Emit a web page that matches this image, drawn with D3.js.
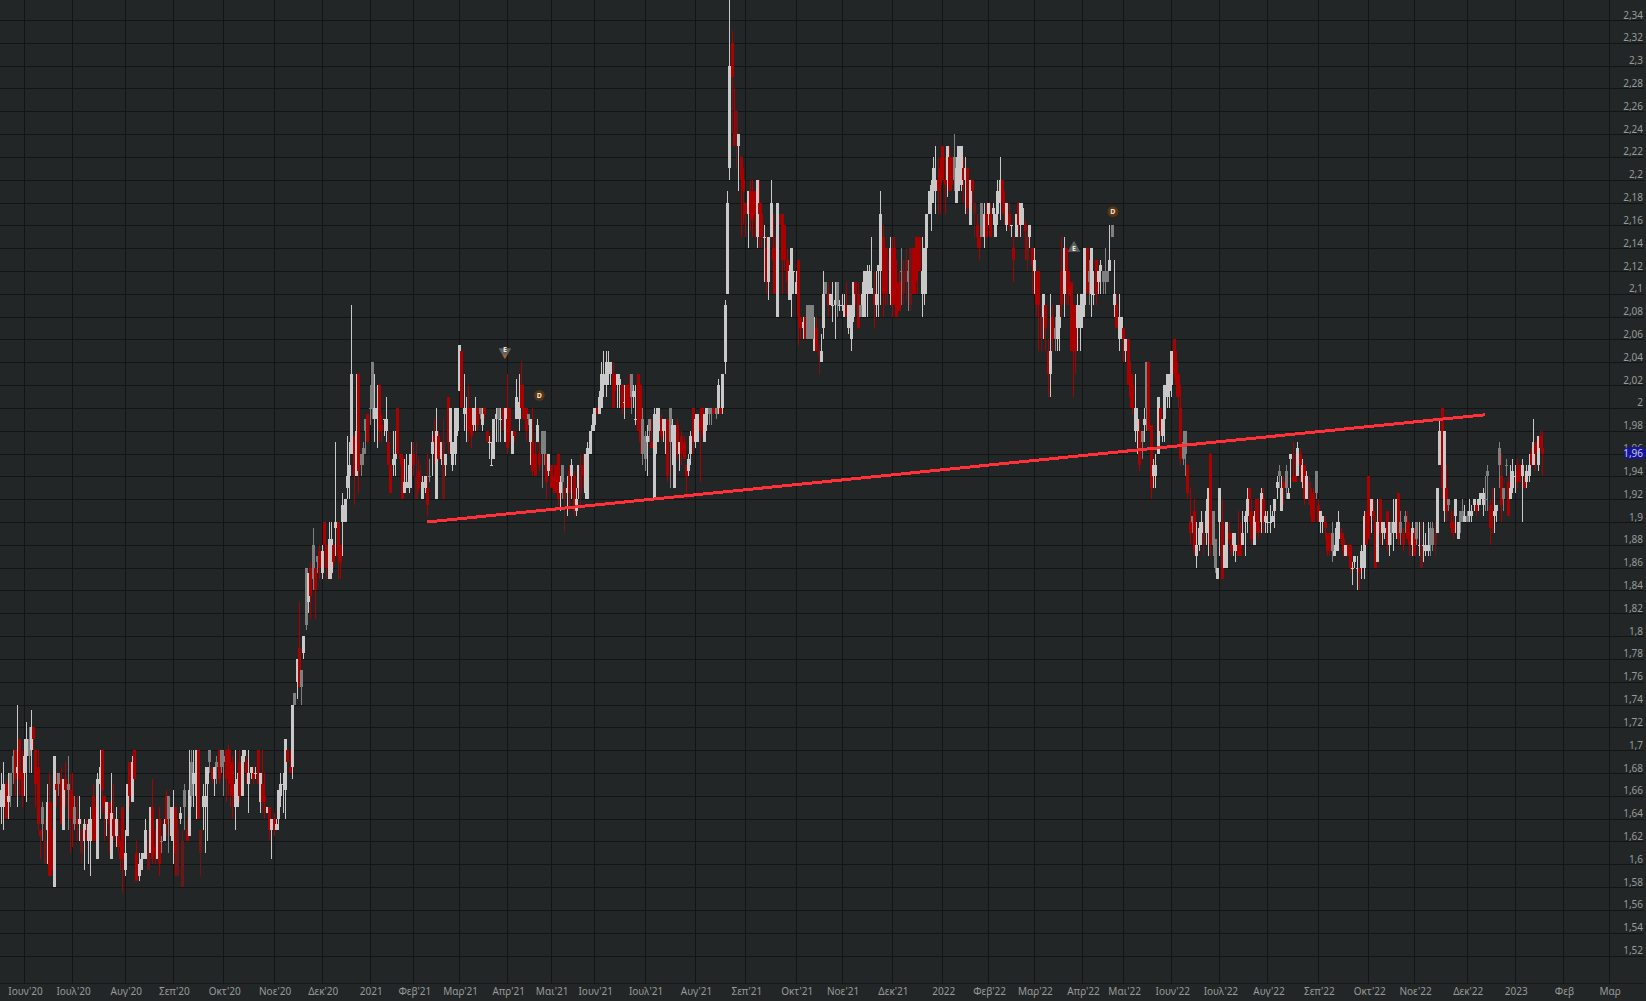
<!DOCTYPE html>
<html>
<head>
<meta charset="utf-8">
<style>
html, body { margin: 0; padding: 0; background: #222626; overflow: hidden; }
svg { display: block; }
text { font-family: "Noto Sans", "Open Sans", sans-serif; }
</style>
<script src="https://cdnjs.cloudflare.com/ajax/libs/d3/7.8.5/d3.min.js"></script>
</head>
<body>
<svg></svg>
<script>
'use strict';

// month axis: bar number where each month starts and its label
var monthBars = [10,31,54,75,97,119,140,161,180,200,221,240,259,281,303,325,347,367,389,411,431,451,472,490,511,532,553,575,597,617,640,661,682,702];
var monthLabels = ["Ιουν'20","Ιουλ'20","Αυγ'20","Σεπ'20","Οκτ'20","Νοε'20","Δεκ'20","2021","Φεβ'21","Μαρ'21","Απρ'21","Μαι'21","Ιουν'21","Ιουλ'21","Αυγ'21","Σεπ'21","Οκτ'21","Νοε'21","Δεκ'21","2022","Φεβ'22","Μαρ'22","Απρ'22","Μαι'22","Ιουν'22","Ιουλ'22","Αυγ'22","Σεπ'22","Οκτ'22","Νοε'22","Δεκ'22","2023","Φεβ","Μαρ"];

var priceTicks = d3.range(76, 118).map(function (c) { return c / 50; });

// daily bars, in cents: open, high, low, close, thin session flag
var bars2020 = [
  // may
  [165,168,163.5,166.5],[165,169,163,167],[167,167.5,164,164],[165.5,168,164,166],[166,168,165,168,1],
  [168,170,167,169.5,1],[170,170,166,167.5],[168,174,165,168.5],[171,171,166,167.5],[168,170,165,166],
  // jun
  [168,171,166,169.5],[169.5,172.5,165.5,171],[169.5,172,168,171,1],[170,173.5,168,172],[172,172,170,171],
  [170,170,165,167],[168.5,170,163,163.5],[163,163,160.5,162.5],[163.5,165.5,162,165,1],[162,164,160,160,1],
  [163,167,160,165.5],[165.5,168,159,159],[163,165.5,159,159.5],[158,169.5,158,169.5],[167,168,165,166.5],
  [167,168,166,168,1],[167.5,168.5,163.5,163.5],[163,167.5,163,167.5],[167.5,169,165,166.5],[166.5,169.5,163,167,1],
  [166.5,168,161,164],
  // jul
  [166,168,161.5,164],[163.5,166,163,165,1],[164,166,162,163.5],[163.5,166,162,164],[163,164,160,161,1],
  [162,164,159.5,163.5],[163,164,162,162],[162,164,160,163.5],[162,165,159,164],[166,167,162,162],
  [165,165,162,162.5],[160.5,168,160.5,167.5],[167,170,164,168.5],[170,170,164.5,166.5],[166,166,162,165],
  [164,165.5,162.5,165.5],[165.5,165.5,161,163.5],[160.5,168,160.5,164.5],[164,167,162,162.5],[162.5,165,161.5,164],
  [162.5,164,161,161.5],[161,162,159.5,160.5],[165,165,157.5,160.5],
  // aug
  [159.5,163,159,161],[162.5,167,162.5,167],[169,169,165,166],[165.5,169.5,165.5,169],[170,170,167.5,167.5],
  [161,162,158.5,158.5],[159,161,158.5,160],[159.5,161,159.5,160.5],[160.5,161,160.5,161],[160.5,164,160.5,163],
  [162,163,159.5,159.5,1],[161,165,161,165],[165,167.5,160,160.5],[161.5,163,160,161],[160.5,164,160.5,164],
  [164,165,159,160],[162,162.5,161,162,1],[162,164,162,163.5],[166,166.5,162.5,163.5],[164,166,161,166,1],
  [162.5,165,162,165],
  // sep
  [162,166.5,160,165],[165,165,159,161],[163,164,159,159,1],[164,165,163.5,164.5],[162,163,158,158,1],
  [165,167,163,166.5,1],[163,164,162,162],[162.5,170,162.5,166.5],[166,170,165,169,1],[167,170,165,168],
  [166,170,164,170],[170,170,164,164],[163,163,159,161,1],[165,167,163,166],[165,168.5,161,166],
  [167,168.5,162,168.5],[169,170,168,170,1],[168.5,168.5,167,167.5],[167.5,168.5,166,168.5],[168.5,169.5,167,169,1],
  [170,170,167,167.5],[168.5,170,168,170,1],
  // oct
  [169,170,166,169.5,1],[170,170,165.5,167.5],[170,170.5,166,168],[169,170,165,167],[169,169.5,164,166],
  [165,170,163,167],[165,168,165,167.5],[169,170,165.5,166],[166,170,166,169.5],[169.5,170,169,170],
  [169,169.5,167,168],[167,170,164.5,168],[168,168.5,167.5,168.5],[168,168.5,167,167.5],[168,168.5,167.5,168],
  [170,170,167,167],[165.5,168,164.5,168],[167,170,164.5,165.5],[166,168,164,165.5],[164.5,165,164.5,165],
  [165,165,162,163],[163,164,160.5,164],
  // nov
  [164,164.5,162.5,163],[163,164,163,163.5],[164,166.5,163,166.5],[166,168,165,167],[167,168,164.5,167],
  [166.5,171,164,171],[170,170,169,169],[168.5,170,168,168],[168.5,174,167.5,174],[174,175,174,175,1],
  [176,178,174.5,178],[179,183,175.5,175.5],[175.5,177,174,177,1],[178.5,180,178,180],[181,186,180.5,186,1],
  [183,185.5,182,185.5],[186,186.5,181.5,183.5],[185,189.5,184,188,1],[186,186,181.5,184],[186.5,187,185.5,187,1],
  [187.5,188,185,186],
  // dec
  [185.5,188,185,187.5],[190,190,188,188],[188,188,185,186],[185,190,185,188.5],[185.5,190,185,188.5],
  [188,188,186,186.5],[189.5,197,187,190],[190,190,185,187],[188,188,185,186.5],[190,192.5,187,191.5],
  [190,192,190,192],[193,197.5,192,194],[194,197,192,195],[196,209,196,203],[197.5,197.5,191.5,194],
  [194,203,194,198],[203,203,192.5,194.5],[195,196,194,196,1],[196,197,195,196.5,1],[198,199,196,199,1],
  [199.5,199.5,197,197]
];

var bars2021 = [
  // jan
  [200,202,198.5,200,1],[200,204,199,204,1],[199,203,197,200],[199,202,196.5,200],[202,202,197,198],
  [198.5,199.5,197,198],[199,199,197.5,199],[198,201,197,199],[197,198,195,195],[195,195,192.5,192.5],
  [195,198,194,195.5],[195.5,198,194,196],[200,200,196,196],[196,196,195,195.5],[195.5,196,192,192],
  [192.5,195.5,192.5,193.5],[193,196,193,193.5],[193,196,192.5,195],[195,197,193,196],
  // feb
  [196,197,194,195],[194,197,192,192,1],[194.5,195.5,192.5,193],[194,195,193.5,193.5,1],[192,194,192,193.5],
  [193,194,192.5,194],[193,196,190.5,191.5],[194,195.5,193.5,194,1],[196,198,194,197],[197.5,199,195,197],
  [192,200,192,198],[197.5,198,195.5,195.5],[195.5,197,195,197],[197,199,192,192,1],[195,196,194,196],
  [201,201,196,197],[197,200,196,200],[195,197,194.5,197],[196,200,195,200],[198,200,197.5,200],
  // mar
  [201.5,205.5,201.5,205.5],[205,205,200,200],[199.5,203,198,200],[200,201,197,200],[200,202,197,198],
  [200,200,196.5,197.5],[198.5,200,198,200],[198.5,201,198,200],[200,200,198,198.5],[199.5,200,199,200,1],
  [198.5,200,198,199.5],[200,200,199,199.5],[198,198,197,197],[197,197.5,195.5,197],[195,197,195,195],
  [195.5,199,195.5,199],[199,200,197,199.5],[199,200,197,200,1],[199,200,197,199],[200,200,198,199],
  [197,200,197,200],
  // apr
  [199,203,196,196.5],[200,200,197,198],[196,198,196,198],[198,198,197,197.5],[199,202.5,199,201],
  [199,203,198,200.5],[202,204,200,200],[200,202,199,199],[200,200,197,198],[199,199.5,198.5,199.5,1],
  [197,199,195,199],[197,200,194,194.5],[196,197,194,194],[197,199,197,198.5],[196,197,194.5,195],
  [196,198,193,198,1],[196,198,195,198,1],[196,196,192,193.5],[194.5,196,194,196],
  // may
  [195,195,193,193],[194,194,192.5,193],[195,195,192.5,192.5],[196,196,191.5,192],[192.5,194,191,193.5],
  [193.5,195,192,195,1],[193,193.5,189,192,1],[192.5,194,190.5,193],[194.5,195,191,192.5],[194,195.5,192,195],
  [194,194.5,190.5,191],[191,193,190.5,192],[193,195,192,195],[195,196,191,192.5,1],[195,196,193,194],
  [192.5,196,192,196],[192,197,192,196.5],[196,198,196,198],[198,199.5,198,198.5],
  // jun
  [198.5,200,198,200],[200,200,199.5,199.5],[199.5,201.5,199.5,201],[200,204,200,203],[202,205,201,203],
  [202,205,201,204],[203,205,202,204],[203,204,202,204],[203,204,200,200],[203,203,201.5,202],
  [202,203,200,203],[202,203,200,202.5],[202,202,199.5,200],[200.5,202,199,200.5],[202,202,200,200],
  [202,203,200,200],[201,203,199.5,203,1],[201,202,200,201.5],[199,202,198.5,199],[203,203,198,198],
  [202,202,196,197],[196,200,195,199,1],
  // jul
  [195.5,198,194.5,197.5,1],[197,198.5,194,197.5],[198,199,197,199,1],[197,199,196.5,196.5],[192,200,192,199.5],
  [197,200,196,199],[198,200,197,200],[199,199.5,197,197.5],[198,199,197,199],[198,199,196,198.5],
  [199,199,193.5,194],[197,200,193,200,1],[197,199,195,198.5],[193,198.5,193,198.5],[198.5,199,195.5,196],
  [196,197,194.5,197],[197.5,198,195,196],[197,197.5,195.5,195.5],[195,195,192,194],[194.5,196,194,195.5],
  [196,198,195,197.5],[200,200,196,197],
  // aug
  [197,199.5,196.5,199],[197,199.5,197,199.5],[199,200,193.5,198],[200,200,197.5,199],[197,199.5,197,199.5],
  [198.5,200,198,200],[199.5,200,198.5,200,1],[199.5,200,198.5,200,1],[200,200,199.5,199.5],[199.5,200,199,200,1],
  [200,202.5,199.5,202],[200,200,199.5,199.5],[200,203,199.5,203],[204,209.5,203,209],[210,219,210,218],
  [221,236,220,230],[232,233,224,229],[224,228,223,223],[226,226,221,223,1],[223,224,219,224],
  [222,222,215,220],[220,221,216,219],
  // sep
  [218,218,215,217],[217,219,214,219],[219,220,215.5,217],[219,220,215,216.5],[219,219,215,217],
  [215,220,214,220],[218,220,214,217],[217,218,214,215],[215,216,211,215],[214,215,210,211],
  [211,215,209.5,215],[215,220,215,218],[214,217,210,213],[213,215,210,210],[208,218,208,218],
  [217,217,216,216,1],[217,217,210,213],[216,216,212,213],[213,214,210,211],[209.5,212.5,209.5,212],
  [210,214,208,214],[212,212,210,212],
  // oct
  [210,212,210,211],[213,213,205.5,208],[208,208,206,207],[207,208,206,207.5],[208,208,206,206],
  [206,209,206,209,1],[206,209,206,209,1],[206,209,206,209,1],[205,208,205,206],[207,208,205,205],
  [205,205.5,203,204.5,1],[204,206.5,204,205],[207,212,206,210],[210,211,210,211,1],[210,211,208,209],
  [209,210,209,210],[209,211,207.5,209],[209,211,206,209.5],[209,211,208,211,1],[209,209.5,208.5,209],
  // nov
  [209,210,208.5,209],
  [208,210,208,209],[209,211,208,208],[207,209,206.5,209],[206,209,205,209],[208,211,207.5,211],
  [211,211,209,210],[210,211,207,207],[208,209,208,209,1],[209,211,208,210],[208,212,208,212],
  [210,212.5,208,212],[210,212.5,210,212],[210,215,210,210.5],[210,212,207,209],[209,212,208,210],
  [212,212.5,208,212.5],[212,219,209,217],[215,216,208,210],[214,214,209,210],[213,214,209,212,1],
  [210,215,209,214],[214,215,208,209],
  // dec
  [214,215,209,211],[211,213,208,208],[211,212,208.5,208.5],[212,214,209,212,1],[212,213,209,210,1],
  [213,214,209.5,211,1],[211,213,208.5,212,1],[214,214,208.5,209,1],[214,214,210,210],[214,215,210,211],
  [215,215,210,212],[215,215,212,212],[210,215,208,212],[210,214,209,214],[214,217,210,217],
  [217,219,217,219],[218,220,215.5,219.5],[219,222,218,221],[219,223,217,220],[220,222,217,219],
  [221,222,217,219.5],[223,223,220,220]
];

var bars2022 = [
  // jan
  [220,222,217,219.5],
  [220,223,218.5,223],[222,223,219,219],[222,222,219,219.5],[220,224,219,222,1],[218,222,218,221],
  [219,223,219,223],[219.5,223,219,223],[221,222,218,220],[220,222,217,221],[221,221,217,217.5],
  [216,220,216,220],[220,220,218,219],[218,218,215,217,1],[216,217,214,215],[215,215,213,214],
  [215,218,215,218,1],[215,218,214,217],[217,218,215,215],[217,218,216,218],[217,218,215,215],
  // feb
  [217,218,216,217.5],
  [215,217,215,217],[217,220,216,219],[218,222,216.5,220],[220,220,217,218],[218,219,216,217],
  [216,218,215.5,218],[217,218,215.5,216],[216,216,215,216],[214,215,211,213],[215,217,215,217],
  [218,218,215,216],[216,218,215,218],[216,218,216,217.5],[216,216.5,213,215.5],[215,215.5,212,213,1],
  [215,216,214,216],[214,214,210,212.5],[212,214,210,213],[212,212,208,209],[212,212,205,209],
  // mar
  [208,209,205,206,1],[208,210,206,210],[209,209,205,207],[205,206,201,203],[203,210,201,205],
  [208,209,205,206],[206,208,205,207,1],[206,209,205,209],[207,209,205,208],[212,215,208,209],
  [210,215,208,214],[214,214,209,212],[212,212,209,210],[211,211,205,205],[209,209,201,205],
  [209,209,203,205],[207,210,205,209],[207,210,205,209],[208,210,207,210],[209,214,208,214],
  [214,214,210,210],
  // apr
  [211,213,209,212,1],[210,214,208,214],[210,212,209,210],[213,213,209,210],[211,212,210,212],
  [212,213,210,212.5],[211,212,210,212,1],[211,214,210,212,1],[211,212,211,212,1],[212,216,212,213],
  [215,216,215,216,1],[209,213,208,210],[209,210,207,207],[206,210,205,208],[207,208,206,208],
  // may
  [207,207,204,206],[205,206,204,206],[206,206,202,202],[203,204,200,201],[202,203,199.5,200],
  [198,203,197,200],[198,200,196,199],[198,199,194.5,195],[197,198,195.5,198,1],[198.5,200,197,199],
  [200,204,198,204,1],[204,204,198,198],[198.5,198.5,192,193],[194,195.5,193,195],[194,196,193,195],
  [196,201,196,201],[200,200,197.5,198],[197.5,199,197,199],[199,202,197,202],[201,203,200,203],
  [201.5,203,200,203],
  // jun
  [202,205,201,205],[206,206,202.5,203],[204,205,201,202],[203,203,200,201],[200,202,195,195.5],
  [195.5,198,195,197,1],[196,198,194,198,1],[195,195,192,192.5],[190,193,188,189],[190,190.5,189,190.5,1],
  [191,192,187,187.5],[187,190,186,188],[188,190,187.5,189.5],[189,191,188,190],[189,190,187,188,1],
  [189,192,188,191],[190,193,187,193],[196,196,187,188],[188,191,187,191,1],[186,188.5,185.5,188.5,1],
  [185,186,185,186],
  // jul
  [190,193,187,193],[190,192,185,185],[186,188,186,188],[186,190,186,190],[189,190,188,188.5],
  [188,189,187,187.5],[188,189,187,189],[187.5,189,186.5,188],[188,191,187,187],[188,190,187,187],
  [188,191,188,189],[190,191,187,190.5],[190.5,193,189,192],[193,193,190,192],[191,192,188,188.5],
  [188,191,188,190.5],[192,192,189,190],[190,192,188.5,189],[190,193,189,192.5],[192,193,189,190],
  [190,191,189,190.5],
  // aug
  [190,191,189,190],
  [190,191.5,189,190],[190,191,190,190.5],[191,192,189.5,192],[193,194,192,193.5],[194,195,193,194.5,1],
  [191,194,191,193],[193.5,194,191.5,193],[193,195,192,194.5,1],[192,193,192,192.5],[195.5,196,193,196],
  [194,197,193.5,193.5],[194,196,193.5,193.5],[194,197,194,196.5],[196,196.5,193.5,195],[193.5,195.5,193,195],
  [195,195,191.5,192],[192,194.5,192,194],[193.5,194,191.5,191.5,1],[192,193,190,190.5],[192.5,193,190,190],
  [192.5,194.5,192,194.5,1],[191.5,192,190,190],
  // sep
  [190,191,189,191],[190,190.5,189,190.5],[190,190.5,188.5,189.5],[189,189,187,187.5],[189,189,187,187.5],
  [187.5,190,186.5,189,1],[187,188,187,187.5],[187.5,190,187.5,189.5],[188.5,191,187.5,190],[189,189.5,188,188.5],[188.5,189,187,187.5],
  [187,188,187,188],[188,188,187,187],[188,188,185.5,186],[186,186.5,184.5,186],[186.5,187,186,187],
  [186,187,184,186],[186,186,184,185.5],[186,188,185,187.5],[186,191,185,190.5],[191,191,188,188],
  [194,194,188.5,188.5],[190.5,192,189,192],
  // oct
  [191,192,190,190.5],[190,190.5,186,186],[186.5,192,186.5,190],[192,192,188,189],[189,190,188,190],
  [189,190,188.5,189.5],[191,191,187.5,188],[188,190,187,190],[189,190,188,190,1],[189,192,187.5,190],
  [189,192,188.5,192],[192.5,192.5,188,188.5],[189,191,188,190,1],[189,189.5,187.5,188],[190,191,189,190.5,1],
  [190,191,188.5,188.5],[189,190,187,188],[188,190,187,189.5],[189,189.5,187,187],[188.5,190,188,190,1],
  // nov
  [188,190,187,188],[188,190,186,186,1],[188,190,186.5,188],[187.5,189,187,188],[187.5,190,187,188],
  [188,190,187,189.5,1],[188,190,187.5,189.5,1],[189,190,187,188,1],[189,193,189,193],[195,199,195,198],
  [200,200,192,193],[191,198,190,198],[193,195,190,191],[191.5,192,191,192,1],[190,191,189,189.5],
  [190,191,188.5,189],[190.5,192,189,192],[188.5,190,188.5,190],
  [190,191,189,191,1],[190,192,190,191,1],[190,191.5,190,190.5],
  // dec
  [190,191,190,190.5,1],[190.5,192,190,191],[190.5,191.5,190,191],[191.5,192,191,192],[191.5,191.5,190.5,191],
  [191.5,192,191,192],[192,192.5,191.5,192.5],[191.5,193,190.5,192.5],[192,194,191,192,1],[194,195,191,194.5,1],
  [191.5,192,188,189.5],[191,193,189,190.5],[190.5,193,189,191],[191,191.5,190,191.5],[195,197,193,196.5,1],
  [194,196,190,191.5],[192,193,191,193,1],[195,195.5,194,195,1],[193.5,194,190.5,190.5],[192,195,192,193],
  [193,195.5,192.5,194.5]
];

var bars2023 = [
  [194,195,192.5,194],
  [194.5,195.5,193,193.5],[195,195,193.5,193.5],[194,195.5,190,195],[193.5,194,193,193],[193.5,195,193,194.5],
  [194,196,193.5,195],[196,196.5,195,195],[195,199,195,197],[197,197,194.5,196],[195,197.5,194.5,197.5],
  [197.5,198,196.5,196.5],[196.5,198,194,196]
];

// support line drawn on the chart
var trendBars = [186, 648];
var trendPrices = [1.90, 1.994];

// event markers: E = triangle, D = circle
var eventMarkers = [
  { bar: 220, price: 2.049, kind: 'E', dir: 'down' },
  { bar: 235, price: 2.011, kind: 'D' },
  { bar: 468.5, price: 2.14, kind: 'E', dir: 'up' },
  { bar: 485.5, price: 2.172, kind: 'D' }
];

var lastPrice = 1.96;

var width = 1646, height = 1001;
var gridBottom = 983, rightEdge = 1644;
var bars = bars2020.concat(bars2021, bars2022, bars2023);

var svg = d3.select('svg')
    .attr('width', width)
    .attr('height', height)
    .style('background-color', '#222626');

var x = d3.scaleLinear().domain([0, 702]).range([1.1, 1.1 + 2.29 * 702]);
var y = d3.scaleLinear().domain([1.5, 2.34]).range([978.4, 20]);

function priceLabel(p) {
    return String(+p.toFixed(2)).replace('.', ',');
}

function barColor(d) {
    var up = d[3] >= d[0];
    if (d[4]) {
        return up ? '#7f8080' : '#6b1717';
    }
    return up ? '#c9c9c9' : '#ab0000';
}

displayGrid();
displayBars();
displayTrend();
displayMarkers();
displayPriceTag();

function displayGrid() {
    var xAxis = d3.axisBottom(x)
        .tickValues(monthBars)
        .tickFormat(function (d, i) { return monthLabels[i]; })
        .tickSize(-gridBottom)
        .tickPadding(5);

    var xGroup = svg.append('g')
        .attr('transform', 'translate(0,' + gridBottom + ')')
        .call(xAxis);
    xGroup.select('.domain').remove();
    xGroup.selectAll('line').attr('stroke', '#121515').attr('shape-rendering', 'crispEdges');
    xGroup.selectAll('text')
        .attr('dx', 1)
        .attr('fill', '#979a9a')
        .attr('font-size', 10)
        .attr('font-family', '"Noto Sans", sans-serif');

    var yAxis = d3.axisRight(y)
        .tickValues(priceTicks)
        .tickFormat(priceLabel)
        .tickSize(rightEdge)
        .tickPadding(0);

    var yGroup = svg.append('g').call(yAxis);
    yGroup.select('.domain').remove();
    yGroup.selectAll('line').attr('stroke', '#121515').attr('shape-rendering', 'crispEdges');
    yGroup.selectAll('text')
        .attr('x', rightEdge - 1)
        .attr('dy', '-0.2em')
        .attr('text-anchor', 'end')
        .attr('fill', '#979a9a')
        .attr('font-size', 10)
        .attr('font-family', '"Noto Sans", sans-serif');

    svg.append('line')
        .attr('x1', 0).attr('x2', rightEdge)
        .attr('y1', gridBottom).attr('y2', gridBottom)
        .attr('stroke', '#161919')
        .attr('shape-rendering', 'crispEdges');
}

function displayBars() {
    var group = svg.append('g').attr('shape-rendering', 'crispEdges');

    var bar = group.selectAll('g')
        .data(bars)
        .enter()
        .append('g')
        .attr('fill', barColor);

    bar.append('rect')
        .attr('x', function (d, i) { return Math.round(x(i)); })
        .attr('width', 1)
        .attr('y', function (d) { return y(d[1] / 100); })
        .attr('height', function (d) { return Math.max(1, y(d[2] / 100) - y(d[1] / 100)); });

    bar.append('rect')
        .attr('x', function (d, i) { return Math.round(x(i)) - 1; })
        .attr('width', 3)
        .attr('y', function (d) { return y(Math.max(d[0], d[3]) / 100); })
        .attr('height', function (d) { return Math.max(1, Math.abs(y(d[0] / 100) - y(d[3] / 100))); });
}

function displayTrend() {
    var line = d3.line()
        .x(function (d) { return x(d); })
        .y(function (d, i) { return y(trendPrices[i]); });

    svg.append('path')
        .attr('d', line(trendBars))
        .attr('fill', 'none')
        .attr('stroke', '#ff3038')
        .attr('stroke-width', 3)
        .attr('shape-rendering', 'crispEdges');
}

function displayMarkers() {
    var triangle = d3.symbol().type(d3.symbolTriangle).size(70);

    var marker = svg.selectAll('.marker')
        .data(eventMarkers)
        .enter()
        .append('g')
        .attr('class', 'marker')
        .attr('transform', function (d) { return 'translate(' + x(d.bar) + ',' + y(d.price) + ')'; });

    marker.filter(function (d) { return d.kind === 'E'; })
        .append('path')
        .attr('d', triangle())
        .attr('fill', '#5d6060')
        .attr('transform', function (d) { return d.dir === 'down' ? 'rotate(180)' : null; });

    // little orange tip under the falling triangle
    marker.filter(function (d) { return d.dir === 'down'; })
        .append('path')
        .attr('d', 'M-2.5,2.5L2.5,2.5L0,6.5Z')
        .attr('fill', '#b0601c');

    marker.filter(function (d) { return d.kind === 'D'; })
        .append('circle')
        .attr('r', 5.4)
        .attr('fill', '#5a3514');

    marker.append('text')
        .text(function (d) { return d.kind; })
        .attr('text-anchor', 'middle')
        .attr('dy', function (d) { return d.dir === 'down' ? '0.05em' : '0.36em'; })
        .attr('font-size', 7)
        .attr('font-weight', 'bold')
        .attr('fill', '#f0e8dc');
}

function displayPriceTag() {
    var tag = svg.append('g')
        .attr('transform', 'translate(0,' + (y(lastPrice) - 0.5) + ')');

    tag.append('rect')
        .attr('x', rightEdge - 20)
        .attr('y', -6)
        .attr('width', 22)
        .attr('height', 12)
        .attr('rx', 5)
        .attr('fill', '#15169a');

    tag.append('text')
        .text(priceLabel(lastPrice))
        .attr('x', rightEdge - 1)
        .attr('dy', '0.35em')
        .attr('text-anchor', 'end')
        .attr('font-size', 10)
        .attr('fill', '#c6c8dc');
}
</script>
</body>
</html>
